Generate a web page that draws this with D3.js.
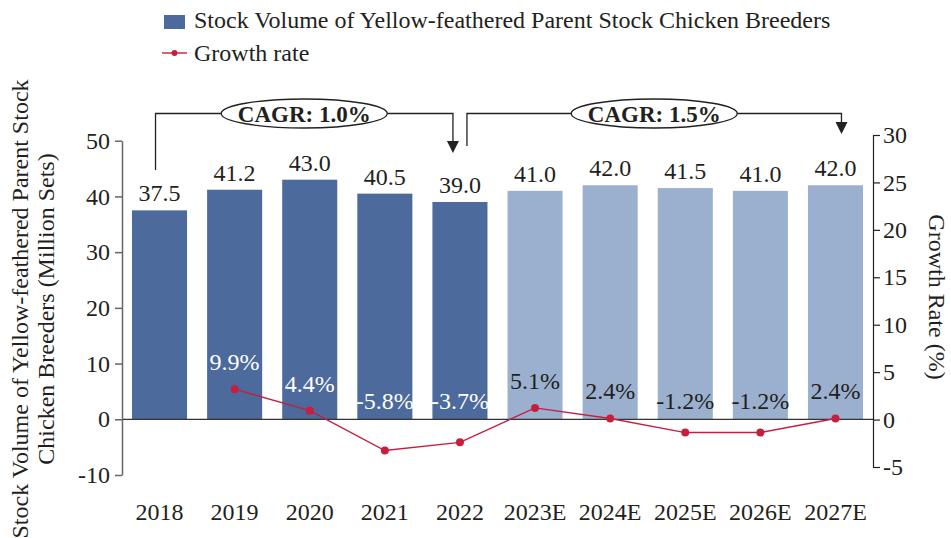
<!DOCTYPE html>
<html>
<head>
<meta charset="utf-8">
<title>Yellow-feathered parent stock chicken breeders</title>
<script src="https://cdn.jsdelivr.net/npm/d3@7"></script>
<style>
  body { margin: 0; background: #fff; }
  text { font-family: "Liberation Serif", "Times New Roman", serif; fill: #231f20; }
</style>
</head>
<body>
<script>
// data
var years = ["2018", "2019", "2020", "2021", "2022", "2023E", "2024E", "2025E", "2026E", "2027E"];
var stock = [37.5, 41.2, 43.0, 40.5, 39.0, 41.0, 42.0, 41.5, 41.0, 42.0];
var growth = [null, 9.9, 4.4, -5.8, -3.7, 5.1, 2.4, -1.2, -1.2, 2.4];
var leftTicks = [-10, 0, 10, 20, 30, 40, 50];
var rightTicks = [-5, 0, 5, 10, 15, 20, 25, 30];
var cagrFrom = ["2018", "2022"];
var cagrTo = ["2022", "2027E"];
var cagrLabels = ["CAGR: 1.0%", "CAGR: 1.5%"];

var width = 951, height = 538;
var darkBlue = "#4c6a9b", lightBlue = "#9bb0cf", red = "#c81e3e";
var fs = "24px";

var svg = d3.select("body").append("svg")
    .attr("width", width)
    .attr("height", height);

var x = d3.scaleBand().domain(years).range([122, 873])
    .paddingInner(0.267).paddingOuter(0.133);
var yL = d3.scaleLinear().domain([-10, 50]).range([475, 140.7]);
var yR = d3.scaleLinear().domain([-5, 30]).range([467, 135]);
// the growth line in the source is drawn on its own (hidden) scale
var yLine = d3.scaleLinear().domain([-10, 10]).range([yR(-5), yR(3.25)]);

function cx(d) { return x(d) + x.bandwidth() / 2; }
function isEst(d) { return d.slice(-1) === "E"; }
function num(v) { return d3.format(".1f")(v).replace("\u2212", "-"); }

var rows = years.map(function(y, i) { return { year: y, stock: stock[i], growth: growth[i] }; });

// bars
svg.append("g").selectAll("rect")
    .data(rows)
    .enter().append("rect")
    .attr("x", function(d) { return x(d.year); })
    .attr("y", function(d) { return yL(d.stock); })
    .attr("width", x.bandwidth())
    .attr("height", function(d) { return yL(0) - yL(d.stock); })
    .attr("fill", function(d) { return isEst(d.year) ? lightBlue : darkBlue; });

// bar values
svg.append("g").selectAll("text")
    .data(rows)
    .enter().append("text")
    .attr("x", function(d) { return cx(d.year); })
    .attr("y", function(d) { return yL(d.stock) - 9; })
    .attr("text-anchor", "middle")
    .style("font-size", fs)
    .text(function(d) { return num(d.stock); });

// zero line
svg.append("line")
    .attr("x1", 122).attr("x2", 873)
    .attr("y1", yL(0)).attr("y2", yL(0))
    .attr("stroke", "#333").attr("stroke-width", 1.2);

// axes
var axL = svg.append("g")
    .attr("transform", "translate(122,0)")
    .call(d3.axisLeft(yL).tickValues(leftTicks).tickFormat(String)
      .tickSize(7).tickSizeOuter(0).tickPadding(5));
axL.select(".domain").attr("stroke", "#666").attr("stroke-width", 1.5);
axL.selectAll(".tick line").attr("stroke", "#666").attr("stroke-width", 1.5);
axL.selectAll("text").style("font-size", fs).attr("fill", "#231f20")
    .style("font-family", "'Liberation Serif', 'Times New Roman', serif");

var axR = svg.append("g")
    .attr("transform", "translate(873,0)")
    .call(d3.axisRight(yR).tickValues(rightTicks).tickFormat(String)
      .tickSize(7).tickSizeOuter(0).tickPadding(3));
axR.select(".domain").attr("stroke", "#222").attr("stroke-width", 1.2);
axR.selectAll(".tick line").attr("stroke", "#222").attr("stroke-width", 1.2);
axR.selectAll("text").style("font-size", fs).attr("fill", "#231f20")
    .style("font-family", "'Liberation Serif', 'Times New Roman', serif");

// x labels
svg.append("g").selectAll("text")
    .data(years)
    .enter().append("text")
    .attr("x", function(d) { return cx(d); })
    .attr("y", 520)
    .attr("text-anchor", "middle")
    .style("font-size", fs)
    .text(function(d) { return d; });

// growth line
var gRows = rows.filter(function(d) { return d.growth !== null; });
var line = d3.line()
    .x(function(d) { return cx(d.year); })
    .y(function(d) { return yLine(d.growth); });
svg.append("path")
    .datum(gRows)
    .attr("d", line)
    .attr("fill", "none")
    .attr("stroke", red)
    .attr("stroke-width", 1.4);
svg.append("g").selectAll("circle")
    .data(gRows)
    .enter().append("circle")
    .attr("cx", function(d) { return cx(d.year); })
    .attr("cy", function(d) { return yLine(d.growth); })
    .attr("r", 4)
    .attr("fill", red);

// growth labels
svg.append("g").selectAll("text")
    .data(gRows)
    .enter().append("text")
    .attr("x", function(d) { return cx(d.year); })
    .attr("y", function(d) { return Math.min(yLine(d.growth) - 19, yL(0) - 10); })
    .attr("text-anchor", "middle")
    .style("font-size", fs)
    .style("fill", function(d) { return isEst(d.year) ? "#231f20" : "#fff"; })
    .text(function(d) { return num(d.growth) + "%"; });

// CAGR brackets
var bracketY = 113.5;
var starts = [cx(cagrFrom[0]) - 4, cx(cagrFrom[1]) + 7];
var ends = [cx(cagrTo[0]) - 7, cx(cagrTo[1]) + 6];
var startBottom = [170, 146];
var tipY = [153, 134];
cagrLabels.forEach(function(lab, i) {
  var g = svg.append("g");
  g.append("path")
    .attr("d", "M" + starts[i] + "," + startBottom[i] + "V" + bracketY + "H" + ends[i] + "V" + (tipY[i] - 11))
    .attr("fill", "none").attr("stroke", "#222").attr("stroke-width", 1.3);
  g.append("path")
    .attr("d", "M" + (ends[i] - 6) + "," + (tipY[i] - 12) + "L" + (ends[i] + 6) + "," + (tipY[i] - 12) + "L" + ends[i] + "," + tipY[i] + "Z")
    .attr("fill", "#222");
  var mid = (starts[i] + ends[i]) / 2;
  g.append("ellipse")
    .attr("cx", mid).attr("cy", bracketY)
    .attr("rx", 83).attr("ry", 14.5)
    .attr("fill", "#fff").attr("stroke", "#222").attr("stroke-width", 1.3);
  g.append("text")
    .attr("x", mid).attr("y", bracketY + 8)
    .attr("text-anchor", "middle")
    .style("font-size", "23px").style("font-weight", "bold")
    .text(lab);
});

// legend
svg.append("rect").attr("x", 164).attr("y", 15).attr("width", 21).attr("height", 14).attr("fill", darkBlue);
svg.append("text").attr("x", 194).attr("y", 28).style("font-size", fs)
    .text("Stock Volume of Yellow-feathered Parent Stock Chicken Breeders");
svg.append("line").attr("x1", 162).attr("x2", 187).attr("y1", 53).attr("y2", 53)
    .attr("stroke", red).attr("stroke-width", 1.4);
svg.append("circle").attr("cx", 174.5).attr("cy", 53).attr("r", 3).attr("fill", red);
svg.append("text").attr("x", 194).attr("y", 61).style("font-size", fs).text("Growth rate");

// axis titles
var lt = svg.append("text")
    .attr("transform", "translate(0,309) rotate(-90)")
    .attr("text-anchor", "middle")
    .style("font-size", fs);
lt.append("tspan").attr("x", 0).attr("y", 28).text("Stock Volume of Yellow-feathered Parent Stock");
lt.append("tspan").attr("x", 0).attr("y", 54).text("Chicken Breeders (Million Sets)");

svg.append("text")
    .attr("transform", "translate(929,297) rotate(90)")
    .attr("text-anchor", "middle")
    .style("font-size", fs)
    .text("Growth Rate (%)");
</script>
</body>
</html>
